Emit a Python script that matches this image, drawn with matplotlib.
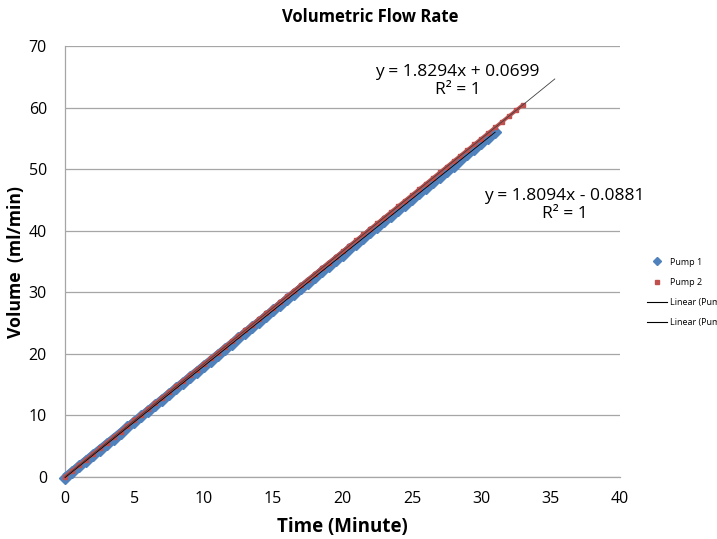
import numpy as np
import matplotlib
matplotlib.use("Agg")
import matplotlib.pyplot as plt
from matplotlib.lines import Line2D

# ---- data ----
time1 = [0.5 * k for k in range(63)]
pump1 = [-0.09, 0.82, 1.72, 2.63, 3.53, 4.44, 5.34, 6.24, 7.15, 8.05,
         8.96, 9.86, 10.77, 11.67, 12.58, 13.48, 14.39, 15.29, 16.20, 17.10,
         18.01, 18.91, 19.82, 20.72, 21.62, 22.53, 23.43, 24.34, 25.24, 26.15,
         27.05, 27.96, 28.86, 29.77, 30.67, 31.58, 32.48, 33.39, 34.29, 35.20,
         36.10, 37.01, 37.91, 38.81, 39.72, 40.62, 41.53, 42.43, 43.34, 44.24,
         45.15, 46.05, 46.96, 47.86, 48.77, 49.67, 50.58, 51.48, 52.39, 53.29,
         54.19, 55.10, 56.00]
time2 = [0.5 * k for k in range(67)]
pump2 = [0.07, 0.98, 1.90, 2.81, 3.73, 4.64, 5.56, 6.47, 7.39, 8.30,
         9.22, 10.13, 11.05, 11.96, 12.88, 13.79, 14.71, 15.62, 16.54, 17.45,
         18.36, 19.28, 20.19, 21.11, 22.02, 22.94, 23.85, 24.77, 25.68, 26.60,
         27.51, 28.43, 29.34, 30.26, 31.17, 32.08, 33.00, 33.91, 34.83, 35.74,
         36.66, 37.57, 38.49, 39.40, 40.32, 41.23, 42.15, 43.06, 43.98, 44.89,
         45.80, 46.72, 47.63, 48.55, 49.46, 50.38, 51.29, 52.21, 53.12, 54.04,
         54.95, 55.87, 56.78, 57.70, 58.61, 59.53, 60.44]
forecast2 = 2.3
eq1 = "y = 1.8094x - 0.0881\nR² = 1"
eq2 = "y = 1.8294x + 0.0699\nR² = 1"
series_names = ["Pump 1", "Pump 2", "Linear (Pump 1)", "Linear (Pump 2)"]

plt.rcParams['font.family'] = ['Open Sans', 'DejaVu Sans']

fig = plt.figure(figsize=(7.17, 5.39), dpi=100)
ax = fig.add_axes([0.0907, 0.115, 0.774, 0.7996])

blue = '#4F81BD'
red = '#C0504D'

ax.plot(time1, pump1, linestyle='-', lw=6.2, marker='D', markersize=6,
        color=blue, markeredgecolor=blue, zorder=3, solid_capstyle='butt')
ax.plot(time2, pump2, linestyle='-', lw=2.6, marker='s', markersize=2.4,
        color=red, markeredgecolor=red, zorder=4, solid_capstyle='butt')

c1 = np.polyfit(time1, pump1, 1)
c2 = np.polyfit(time2, pump2, 1)
x1 = np.array([min(time1), max(time1)])
x2 = np.array([min(time2), max(time2) + forecast2])
ax.plot(x1, np.polyval(c1, x1), color='black', lw=0.6, zorder=5)
ax.plot(x2, np.polyval(c2, x2), color='#404040', lw=0.6, zorder=5)

ax.set_xlim(0, 40)
ax.set_ylim(0, 70)
ax.set_xticks(range(0, 41, 5))
ax.set_yticks(range(0, 71, 10))
for ln in ax.lines:
    ln.set_clip_on(False)

ax.grid(axis='y', color='#A6A6A6', lw=0.9)
ax.set_axisbelow(True)
for s in ['top', 'right']:
    ax.spines[s].set_visible(False)
for s in ['left', 'bottom']:
    ax.spines[s].set_color('#A6A6A6')
    ax.spines[s].set_linewidth(0.9)
ax.tick_params(length=0, labelsize=11.5, pad=13)
ax.tick_params(axis='x', pad=10)

ax.set_xlabel('Time (Minute)', fontsize=13.5, fontweight='bold', labelpad=7)
ax.set_ylabel('Volume  (ml/min)', fontsize=12.7, fontweight='bold')
ax.yaxis.set_label_coords(-0.073, 0.5)
fig.text(370 / 717, 1 - 17 / 539, 'Volumetric Flow Rate',
         ha='center', va='center', fontsize=12, fontweight='bold')

ax.text(28.3, 64.3, eq2, ha='center', va='center', fontsize=12.5, linespacing=1.15)
ax.text(36.0, 44.2, eq1, ha='center', va='center', fontsize=12.5, linespacing=1.15)

handles = [
    Line2D([], [], linestyle='none', marker='D', markersize=4, color=blue),
    Line2D([], [], linestyle='none', marker='s', markersize=2.5, color=red),
    Line2D([], [], color='black', lw=0.8),
    Line2D([], [], color='black', lw=0.8),
]
fig.legend(handles, series_names, loc='upper left',
           bbox_to_anchor=(643 / 717, 1 - 254 / 539), frameon=False,
           fontsize=6.5, handlelength=2.3, handletextpad=0.3,
           labelspacing=1.25, borderaxespad=0)

fig.savefig('out.png', dpi=100)
